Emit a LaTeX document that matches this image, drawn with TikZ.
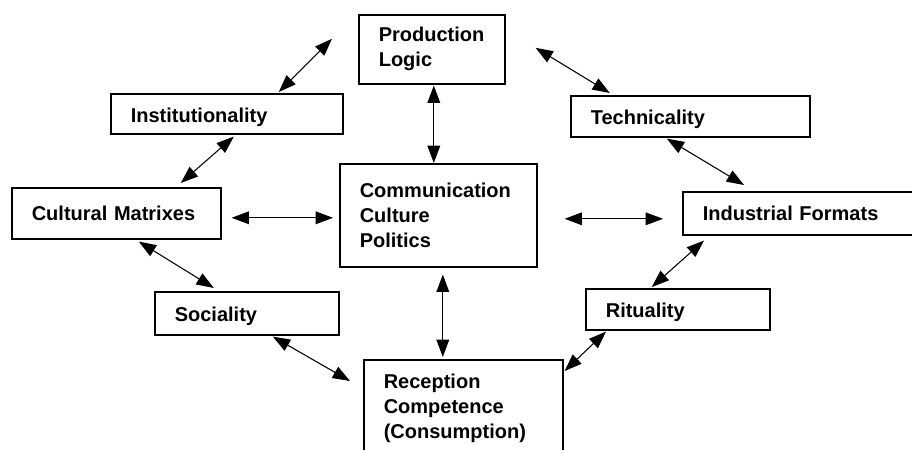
\documentclass[tikz,border=0pt]{standalone}
\usepackage{fontspec}
\setmainfont{Liberation Sans}
\usetikzlibrary{arrows.meta, calc}

\begin{document}
\begin{tikzpicture}[x=0.75pt,y=-0.75pt,>={Triangle[length=13pt,width=9.5pt]},
    box/.style={draw,line width=1.2pt,rectangle,anchor=north west,align=left,inner xsep=15pt,inner ysep=0pt,
                font=\fontsize{15}{18.75}\selectfont\bfseries},
    oneline/.style={text height=16pt},
    link/.style={<->,line width=0.8pt}]

   \useasboundingbox (0,0) rectangle (912,449);

   % Nodes
      \node[box,text width=79.5pt,minimum height=51.75pt]           (prod) at (358,14)  {Production\\Logic};
      \node[box,oneline,text width=144pt,minimum height=30pt]       (inst) at (110,93)  {Institutionality};
      \node[box,oneline,text width=149.25pt,minimum height=30.75pt] (tech) at (570,95)  {Technicality};
      \node[box,text width=126.75pt,minimum height=38.25pt]         (cult) at (11,187)  {Cultural Matrixes};
      \node[box,text width=117.75pt,minimum height=77.25pt]         (comm) at (339,163) {Communication\\Culture\\Politics};
      \node[box,text width=146pt,minimum height=32.25pt]            (ind)  at (682,191) {Industrial Formats};
      \node[box,oneline,text width=108pt,minimum height=32.25pt]    (soc)  at (154,291) {Sociality};
      \node[box,oneline,text width=108pt,minimum height=30.75pt]    (rit)  at (585,288) {Rituality};
      \node[box,text width=119.25pt,minimum height=73.5pt]          (rec)  at (363,359) {Reception\\Competence\\(Consumption)};

   % Paths
      \draw[link] ($(inst.north)+(52,-1)$)       -- ($(prod.west)+(-26,-10.5)$);
      \draw[link] ($(inst.south)+(7,2)$)         -- ($(cult.north)+(64.5,-4)$);
      \draw[link] ($(prod.south)+(2,1)$)         -- ($(comm.north)+(-4.5,0)$);
      \draw[link] ($(cult.east)+(10,4.5)$)       -- ($(comm.west)+(-6,2.5)$);
      \draw[link] ($(prod.east)+(30,-1.5)$)      -- ($(tech.north)+(-80.5,-2)$);
      \draw[link] ($(tech.south)+(-23.5,1)$)     -- ($(ind.north west)+(62,-6)$);
      \draw[link] ($(comm.east)+(27,3.5)$)       -- ($(ind.west)+(-19,5.5)$);
      \draw[link] ($(cult.south)+(22.5,2)$)      -- ($(soc.north)+(-33,-3)$);
      \draw[link] ($(comm.south)+(4.5,7)$)       -- ($(rec.north)+(-20.5,-2)$);
      \draw[link] ($(soc.south)+(26,1)$)         -- ($(rec.north west)+(-13,22)$);
      \draw[link] ($(rit.north)+(-26,-1)$)       -- ($(ind.south west)+(22,5)$);
      \draw[link] ($(rit.south west)+(21,1)$)    -- ($(rec.north east)+(1,12)$);
   \end{tikzpicture}
\end{document}
